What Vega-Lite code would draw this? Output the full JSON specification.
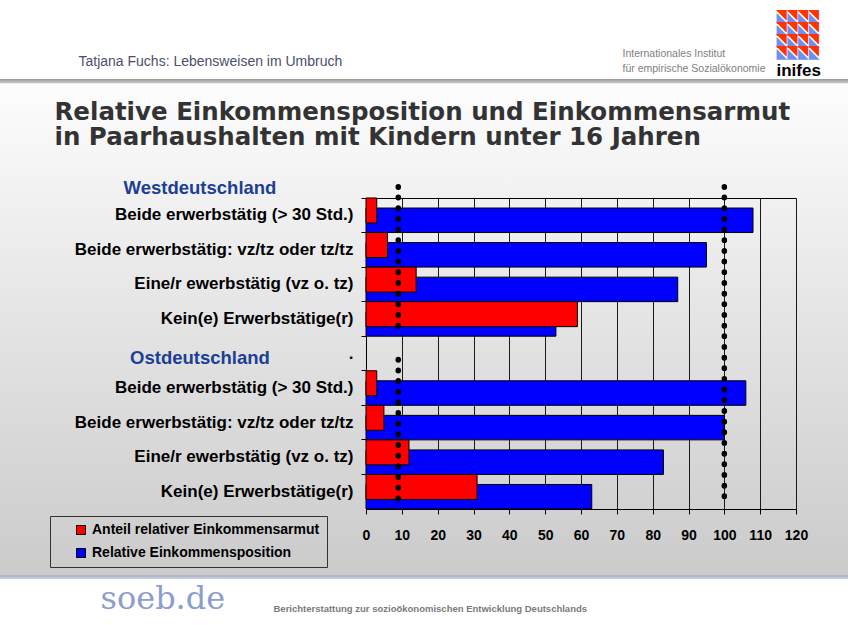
{
  "$schema": "https://vega.github.io/schema/vega-lite/v6.json",
  "width": 848,
  "height": 625,
  "autosize": "none",
  "padding": 0,
  "background": "white",
  "view": {
    "stroke": null,
    "fill": {
      "gradient": "linear", "x1": 0, "y1": 0, "x2": 0, "y2": 1,
      "stops": [
        {"offset": 0, "color": "#ffffff"},
        {"offset": 0.126, "color": "#ffffff"},
        {"offset": 0.127, "color": "#9c9c9c"},
        {"offset": 0.133, "color": "#cacaca"},
        {"offset": 0.134, "color": "#fdfdfd"},
        {"offset": 0.5, "color": "#e5e5e5"},
        {"offset": 0.92, "color": "#cbcbcb"},
        {"offset": 0.921, "color": "#a9b1c6"},
        {"offset": 0.926, "color": "#cdd2e0"},
        {"offset": 0.927, "color": "#ffffff"},
        {"offset": 1, "color": "#ffffff"}
      ]
    }
  },
  "config": {"font": "Liberation Sans"},
  "title": {
    "text": ["◥◥◥◥", "◥◥◥◥", "◥◥◥◥", "◥◥◥◥"],
    "orient": "top", "anchor": "start", "frame": "group",
    "dx": 776, "offset": -58, "baseline": "top",
    "font": "DejaVu Sans", "fontSize": 14, "lineHeight": 12, "fontWeight": "normal", "color": "#ff3300"
  },
  "datasets": {
    "bars": [
      {"row": "W1", "region": "Westdeutschland", "series": "Anteil relativer Einkommensarmut", "value": 3},
      {"row": "W1", "region": "Westdeutschland", "series": "Relative Einkommensposition", "value": 108},
      {"row": "W2", "region": "Westdeutschland", "series": "Anteil relativer Einkommensarmut", "value": 6},
      {"row": "W2", "region": "Westdeutschland", "series": "Relative Einkommensposition", "value": 95},
      {"row": "W3", "region": "Westdeutschland", "series": "Anteil relativer Einkommensarmut", "value": 14},
      {"row": "W3", "region": "Westdeutschland", "series": "Relative Einkommensposition", "value": 87},
      {"row": "W4", "region": "Westdeutschland", "series": "Anteil relativer Einkommensarmut", "value": 59},
      {"row": "W4", "region": "Westdeutschland", "series": "Relative Einkommensposition", "value": 53},
      {"row": "O1", "region": "Ostdeutschland", "series": "Anteil relativer Einkommensarmut", "value": 3},
      {"row": "O1", "region": "Ostdeutschland", "series": "Relative Einkommensposition", "value": 106},
      {"row": "O2", "region": "Ostdeutschland", "series": "Anteil relativer Einkommensarmut", "value": 5},
      {"row": "O2", "region": "Ostdeutschland", "series": "Relative Einkommensposition", "value": 100},
      {"row": "O3", "region": "Ostdeutschland", "series": "Anteil relativer Einkommensarmut", "value": 12},
      {"row": "O3", "region": "Ostdeutschland", "series": "Relative Einkommensposition", "value": 83},
      {"row": "O4", "region": "Ostdeutschland", "series": "Anteil relativer Einkommensarmut", "value": 31},
      {"row": "O4", "region": "Ostdeutschland", "series": "Relative Einkommensposition", "value": 63}
    ],
    "refs": [
      {"xv": 9, "from": "W1", "to": "W4"},
      {"xv": 100, "from": "W1", "to": "O4"},
      {"xv": 9, "from": "O1", "to": "O4"}
    ]
  },
  "resolve": {"axis": {"x": "independent", "y": "independent"}},
  "layer": [
    {
      "data": {"name": "bars"},
      "transform": [{"filter": "datum.series === 'Relative Einkommensposition'"}],
      "mark": {"type": "bar", "height": 24.5, "yOffset": 5, "stroke": "black", "strokeWidth": 1},
      "encoding": {
        "y": {
          "field": "row", "type": "nominal",
          "scale": {"domain": ["W1", "W2", "W3", "W4", "sep", "O1", "O2", "O3", "O4"], "range": [198, 509], "paddingInner": 0, "paddingOuter": 0},
          "axis": {
            "orient": "left", "offset": -366,
            "ticks": false, "domain": true, "domainColor": "black", "grid": false,
            "labelExpr": "datum.value === 'sep' ? '.' : (slice(datum.value, 1) === '1' ? 'Beide erwerbstätig (> 30 Std.)' : (slice(datum.value, 1) === '2' ? 'Beide erwerbstätig: vz/tz oder tz/tz' : (slice(datum.value, 1) === '3' ? 'Eine/r ewerbstätig (vz o. tz)' : 'Kein(e) Erwerbstätige(r)')))",
            "labelFontWeight": "bold", "labelFontSize": 17, "labelColor": "black", "labelPadding": 13,
            "labelLimit": 400, "labelOverlap": false,
            "title": ["Westdeutschland", "Ostdeutschland"], "titleAngle": 0, "titleAlign": "center", "titleBaseline": "alphabetic",
            "titleX": -166.5, "titleY": 193, "titleLineHeight": 170,
            "titleFontSize": 18.5, "titleFontWeight": "bold", "titleColor": "#1c3f94"
          }
        },
        "x": {
          "field": "value", "type": "quantitative",
          "scale": {"domain": [0, 120], "range": [366, 796], "nice": false},
          "axis": {
            "orient": "bottom", "offset": -116,
            "values": [0, 10, 20, 30, 40, 50, 60, 70, 80, 90, 100, 110, 120],
            "grid": false, "domainColor": "black", "tickColor": "black", "tickSize": 5,
            "labelFontSize": 14, "labelFontWeight": "bold", "labelColor": "black", "labelPadding": 14,
            "labelFlush": false, "labelOverlap": false,
            "title": "Berichterstattung zur sozioökonomischen Entwicklung Deutschlands",
            "titleX": 273, "titleY": 102, "titleAlign": "left", "titleBaseline": "alphabetic",
            "titleFontSize": 9.5, "titleFontWeight": "bold", "titleColor": "#7a7a7a"
          }
        },
        "color": {
          "field": "series", "type": "nominal",
          "scale": {"domain": ["Anteil relativer Einkommensarmut", "Relative Einkommensposition"], "range": ["#ff0000", "#0000ff"]},
          "legend": {
            "orient": "none", "legendX": 50, "legendY": 516, "title": null,
            "strokeColor": "#333333", "padding": 7,
            "symbolType": "square", "symbolSize": 81, "symbolStrokeColor": "black", "symbolStrokeWidth": 1,
            "symbolOffset": 17, "labelFontSize": 14, "labelFontWeight": "bold", "labelColor": "black",
            "labelOffset": 4, "rowPadding": 9, "labelLimit": 400
          }
        }
      }
    },
    {
      "data": {"name": "bars"},
      "transform": [{"filter": "datum.series === 'Anteil relativer Einkommensarmut'"}],
      "mark": {"type": "bar", "height": 25, "yOffset": -4.8, "stroke": "black", "strokeWidth": 1},
      "encoding": {
        "y": {
          "field": "row", "type": "nominal",
          "axis": {
            "orient": "left", "offset": -366, "bandPosition": 0,
            "labels": false, "ticks": true, "tickSize": 5, "tickColor": "black", "domain": false, "grid": false,
            "title": ["Internationales Institut", "für empirische Sozialökonomie"],
            "titleAngle": 0, "titleAlign": "left", "titleBaseline": "alphabetic",
            "titleX": 256, "titleY": 56, "titleLineHeight": 15.5,
            "titleFontSize": 10.5, "titleFontWeight": "normal", "titleColor": "#808080"
          }
        },
        "x": {
          "field": "value", "type": "quantitative",
          "axis": {
            "orient": "top", "offset": -198,
            "values": [0, 10, 20, 30, 40, 50, 60, 70, 80, 90, 100, 110, 120],
            "grid": true, "gridColor": "#1a1a1a", "gridWidth": 1, "gridOpacity": 1,
            "labels": false, "ticks": false, "domain": true, "domainColor": "black",
            "title": "Tatjana Fuchs: Lebensweisen im Umbruch",
            "titleX": 78, "titleY": -133, "titleAlign": "left", "titleBaseline": "alphabetic",
            "titleFontSize": 14, "titleFontWeight": "normal", "titleColor": "#4d4d6e"
          }
        },
        "color": {"field": "series", "type": "nominal"}
      }
    },
    {
      "data": {"name": "refs"},
      "transform": [{"filter": "datum.xv === 100"}],
      "mark": {"type": "rule", "color": "black", "strokeWidth": 5.5, "strokeCap": "round", "strokeDash": [0.5, 10.17], "yOffset": -28.6, "y2Offset": 8},
      "encoding": {
        "x": {
          "field": "xv", "type": "quantitative",
          "axis": {
            "orient": "top", "offset": -198, "labels": false, "ticks": false, "domain": false, "grid": false,
            "title": ["Relative Einkommensposition und Einkommensarmut", "in Paarhaushalten mit Kindern unter 16 Jahren"],
            "titleX": 54, "titleY": -79, "titleAlign": "left", "titleBaseline": "alphabetic", "titleLineHeight": 25.5,
            "titleFont": "DejaVu Sans", "titleFontSize": 24.5, "titleFontWeight": "bold", "titleColor": "#333333"
          }
        },
        "y": {
          "field": "from", "type": "nominal",
          "axis": {
            "orient": "right", "offset": 0, "labels": false, "ticks": false, "domain": false, "grid": false,
            "title": "inifes", "titleAngle": 0, "titleAlign": "left", "titleBaseline": "alphabetic",
            "titleX": -72, "titleY": 75, "titleFontSize": 17, "titleFontWeight": "bold", "titleColor": "black"
          }
        },
        "y2": {"field": "to"}
      }
    },
    {
      "data": {"name": "refs"},
      "transform": [{"filter": "datum.xv === 9"}],
      "mark": {"type": "rule", "color": "black", "strokeWidth": 5.5, "strokeCap": "round", "strokeDash": [0.5, 10.17], "yOffset": -28.6, "y2Offset": 8},
      "encoding": {
        "x": {
          "field": "xv", "type": "quantitative",
          "axis": {
            "orient": "bottom", "offset": -116, "labels": false, "ticks": false, "domain": false, "grid": false,
            "title": "soeb.de",
            "titleX": 100, "titleY": 99, "titleAlign": "left", "titleBaseline": "alphabetic",
            "titleFont": "DejaVu Serif", "titleFontSize": 32, "titleFontWeight": "normal", "titleColor": "#8e9ecb"
          }
        },
        "y": {
          "field": "from", "type": "nominal",
          "axis": {
            "orient": "right", "offset": 0, "labels": false, "ticks": false, "domain": false, "grid": false,
            "title": ["◣◣◣◣", "◣◣◣◣", "◣◣◣◣", "◣◣◣◣"], "titleAngle": 0, "titleAlign": "left", "titleBaseline": "top",
            "titleX": -72, "titleY": 10, "titleLineHeight": 12,
            "titleFont": "DejaVu Sans", "titleFontSize": 14, "titleFontWeight": "normal", "titleColor": "#6e8ff0"
          }
        },
        "y2": {"field": "to"}
      }
    }
  ]
}
